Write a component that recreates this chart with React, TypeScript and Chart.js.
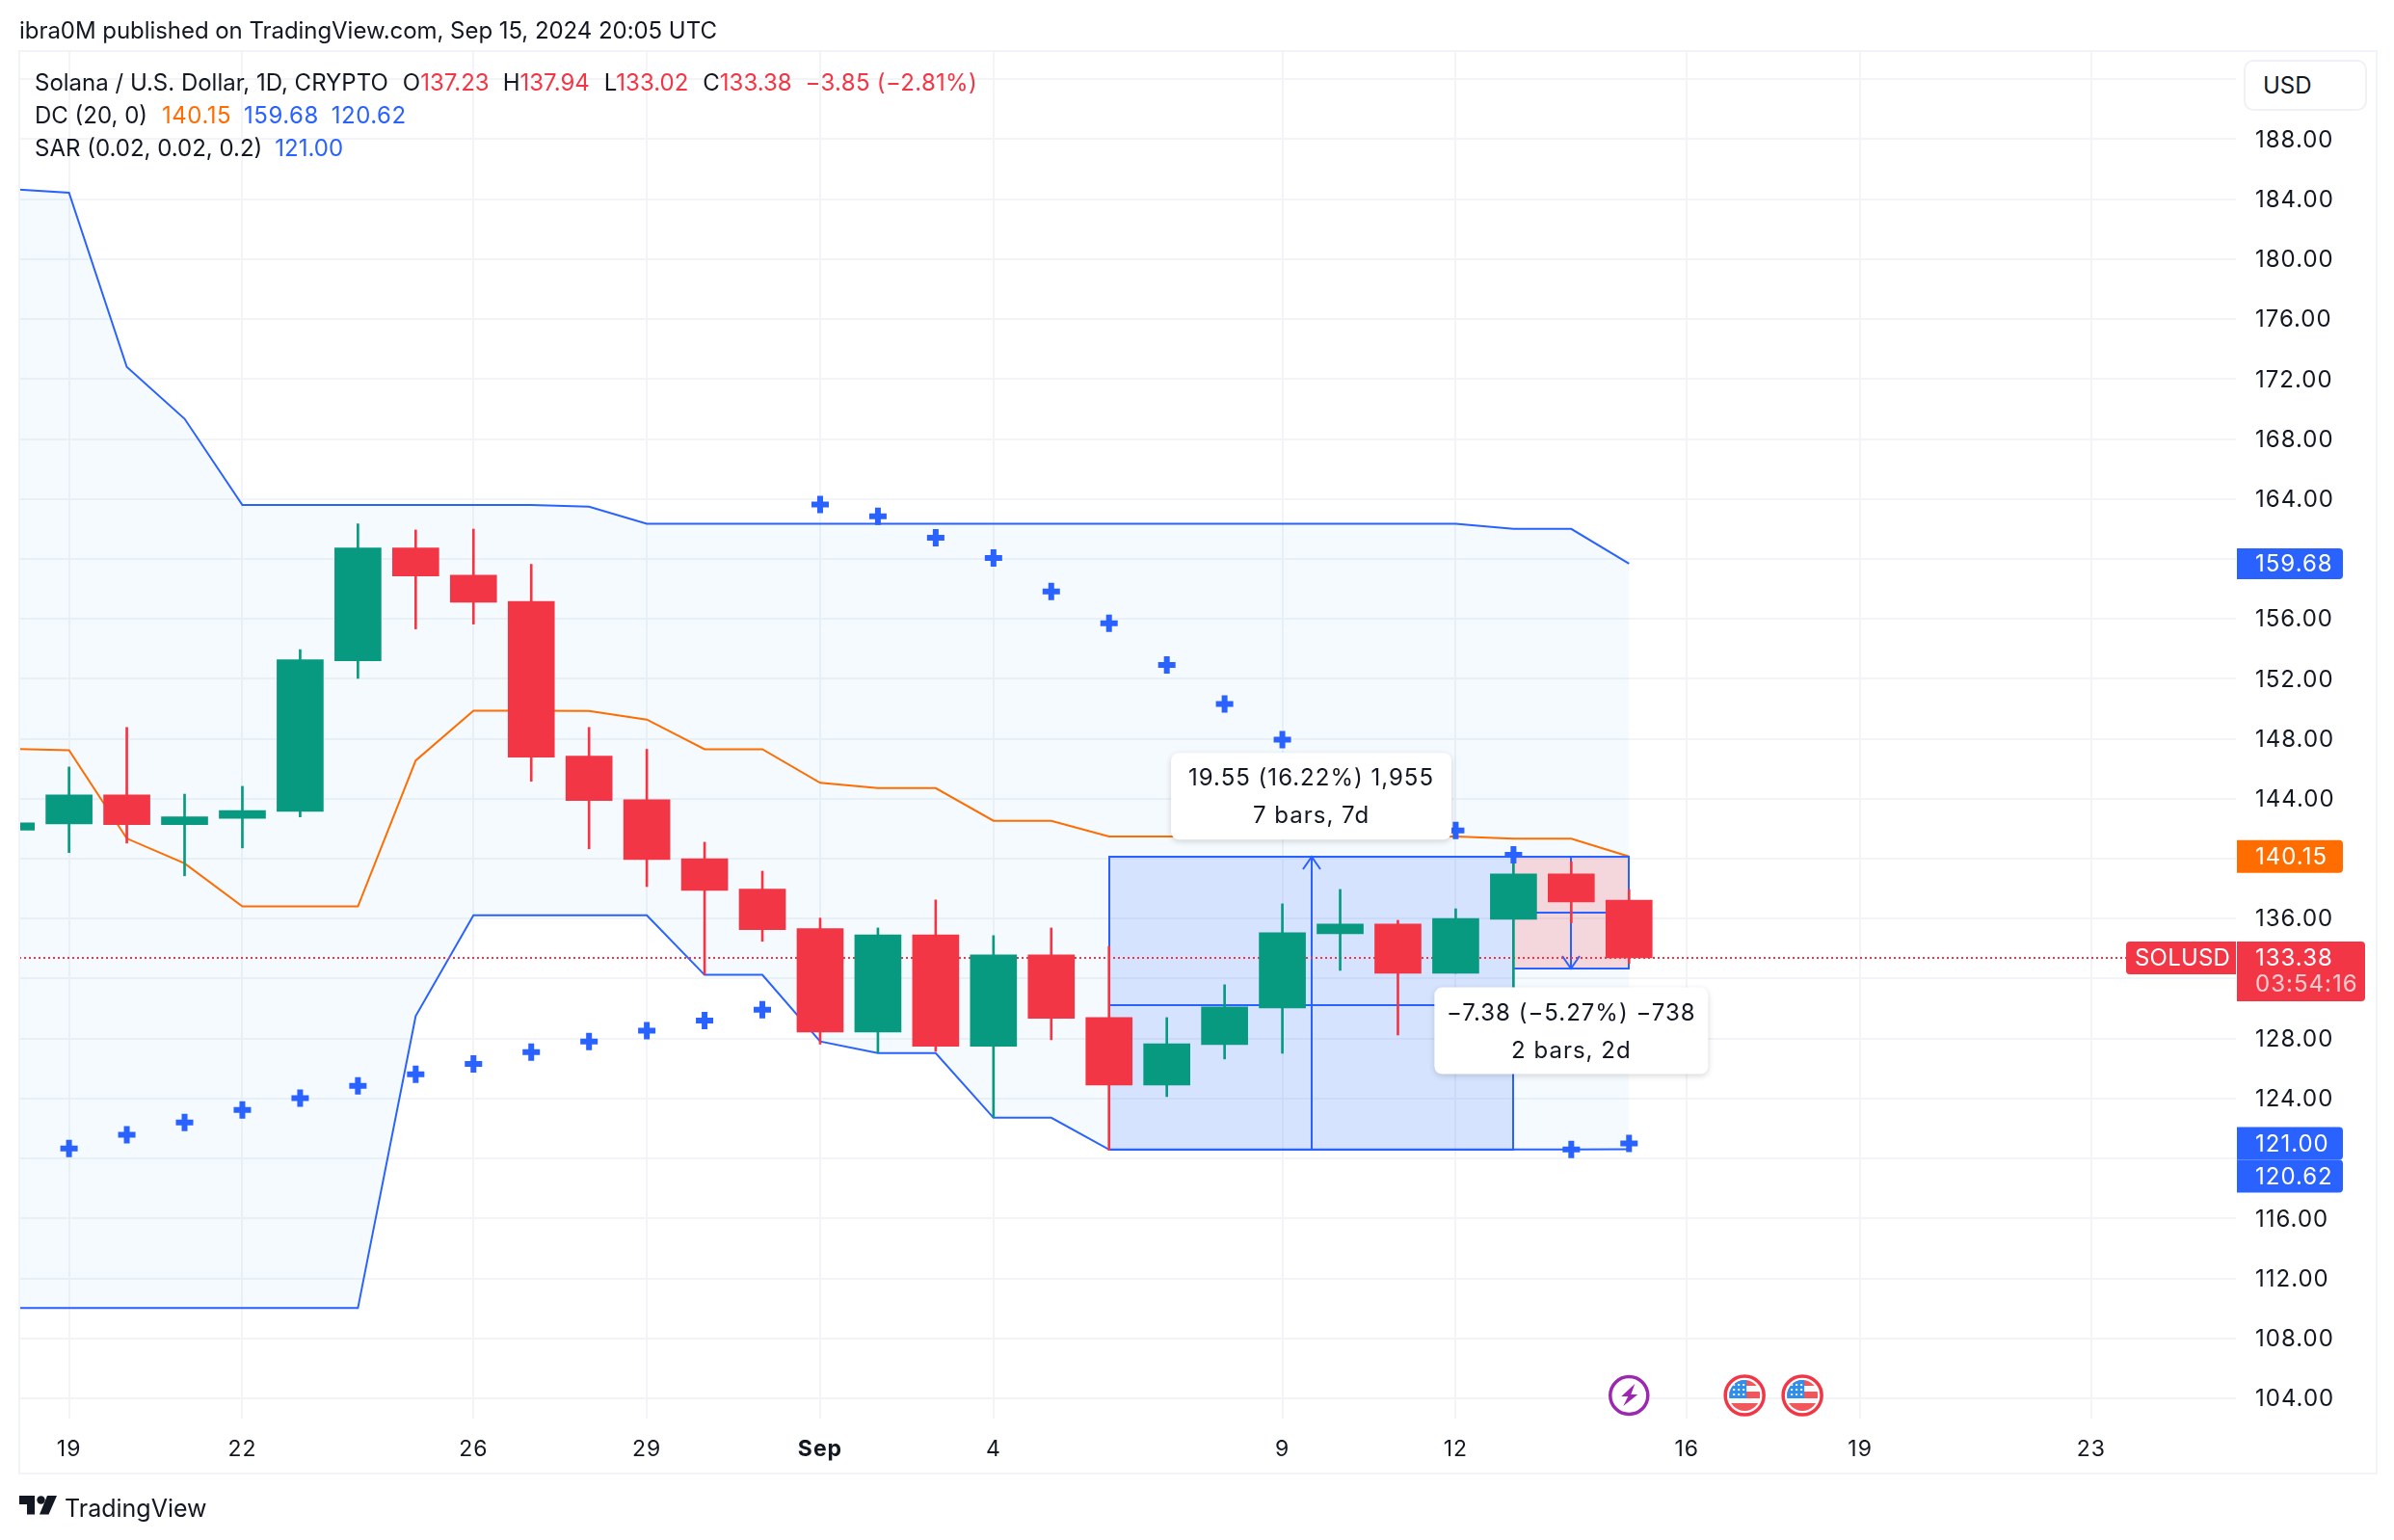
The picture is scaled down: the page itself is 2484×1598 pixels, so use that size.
import React, { useEffect, useRef } from "react";
import { Chart, registerables } from "chart.js";

Chart.register(...registerables);

const FONT = "Inter, 'Noto Sans', sans-serif";
const INK = "#131722";
const UP = "#089981";
const DOWN = "#F23645";
const BLUE = "#2962FF";
const ORANGE = "#FF6D00";

// Aug 18 .. Sep 15, 2024 (x value = days after Aug 19)
const dates = [
  "Aug 18","Aug 19","Aug 20","Aug 21","Aug 22","Aug 23","Aug 24","Aug 25","Aug 26","Aug 27","Aug 28","Aug 29","Aug 30","Aug 31",
  "Sep 1","Sep 2","Sep 3","Sep 4","Sep 5","Sep 6","Sep 7","Sep 8","Sep 9","Sep 10","Sep 11","Sep 12","Sep 13","Sep 14","Sep 15",
];
const opens = [141.9,142.33,144.25,142.27,142.7,143.16,153.21,160.73,158.92,157.17,146.84,143.94,140.0,137.97,135.33,128.44,134.92,127.49,133.58,129.4,124.9,127.6,130.04,134.99,135.64,132.36,135.96,138.98,137.23];
const highs = [142.8,146.12,148.76,144.31,144.83,153.95,162.34,161.93,161.99,159.64,148.76,147.3,141.1,139.17,136.04,135.38,137.25,134.87,135.38,134.16,129.4,131.59,136.99,137.95,135.89,136.66,140.2,139.8,137.94];
const lows = [141.3,140.41,141.04,138.86,140.72,142.79,152.03,155.33,155.65,145.17,140.66,138.14,132.28,134.49,127.63,127.06,127.15,122.73,127.92,120.55,124.13,126.64,127.02,132.55,128.24,132.36,130.6,135.72,133.02];
const closes = [142.39,144.25,142.27,142.79,143.22,153.27,160.73,158.86,157.11,146.78,143.88,139.95,137.88,135.27,128.44,134.92,127.49,133.58,129.36,124.9,127.66,130.11,135.06,135.64,132.36,136.02,138.98,137.11,133.38];

const dcUpper = [184.67,184.43,172.81,169.35,163.6,163.6,163.6,163.6,163.6,163.6,163.48,162.34,162.34,162.34,162.34,162.34,162.34,162.34,162.34,162.34,162.34,162.34,162.34,162.34,162.34,162.34,162.0,162.0,159.68];
const dcMiddle = [147.33,147.24,141.35,139.69,136.82,136.82,136.82,146.55,149.88,149.88,149.85,149.28,147.3,147.3,145.06,144.71,144.71,142.53,142.53,141.49,141.49,141.49,141.49,141.49,141.49,141.49,141.33,141.33,140.15];
const dcLower = [110.02,110.02,110.02,110.02,110.02,110.02,110.02,129.5,136.22,136.22,136.22,136.22,132.25,132.25,127.81,127.03,127.03,122.72,122.72,120.6,120.6,120.6,120.6,120.6,120.6,120.6,120.6,120.6,120.62];
const sar = [119.75,120.66,121.58,122.41,123.24,124.02,124.85,125.62,126.31,127.09,127.81,128.52,129.21,129.93,163.63,162.85,161.42,160.07,157.83,155.7,152.93,150.33,147.94,145.9,143.8,141.89,140.26,120.61,121.0];

const yTicks = [104,108,112,116,120,124,128,132,136,140,144,148,152,156,160,164,168,172,176,180,184,188,192];
const yTicksUnlabelled = [120,132,140,160,192];
const xTickValues = [0,3,7,10,13,16,21,24,28,31,35];
const xTickLabels = ["19","22","26","29","Sep","4","9","12","16","19","23"];

// Price range / date range drawings: x in days after Aug 19
const rangeUpX = [18, 25];
const rangeUpY = [120.6, 140.12];
const rangeUpMid = 130.26;
const rangeUpText = ["19.55 (16.22%) 1,955", "7 bars, 7d"];
const rangeDownX = [25, 27];
const rangeDownY = [140.12, 132.7];
const rangeDownMid = 136.43;
const rangeDownText = ["\u22127.38 (\u22125.27%) \u2212738", "2 bars, 2d"];

const lastPrice = 133.38;
const lastTimer = "03:54:16";
const symbolTag = "SOLUSD";
const eventLightningX = [27];
const eventFlagX = [29, 30];

const X_MIN = -0.861;
const X_MAX = 37.504;
const Y_MIN = 102.65;
const Y_MAX = 193.88;

const xOf = (i: number) => i - 1;
const pts = (arr: number[]) => arr.map((y, i) => ({ x: xOf(i), y }));

function rr(ctx: any, x: number, y: number, w: number, h: number, r: any) {
  ctx.beginPath();
  ctx.roundRect(x, y, w, h, r);
}

function tag(ctx: any, right: number, y: number, w: number, h: number, bg: string, text: string) {
  ctx.fillStyle = bg;
  rr(ctx, right, y - h / 2, w, h, [0, 4, 4, 0]);
  ctx.fill();
  ctx.fillStyle = "#fff";
  ctx.font = `24px ${FONT}`;
  ctx.textAlign = "left";
  ctx.textBaseline = "middle";
  ctx.fillText(text, right + 19, y + 1);
}

function bubble(ctx: any, cx: number, top: number, w: number, h: number, lines: string[]) {
  ctx.save();
  ctx.shadowColor = "rgba(0,0,0,0.16)";
  ctx.shadowBlur = 6;
  ctx.shadowOffsetY = 2;
  ctx.fillStyle = "#fff";
  rr(ctx, cx - w / 2, top, w, h, 8);
  ctx.fill();
  ctx.restore();
  ctx.fillStyle = INK;
  ctx.font = `24px ${FONT}`;
  ctx.textAlign = "center";
  ctx.textBaseline = "middle";
  ctx.fillText(lines[0], cx, top + 27);
  ctx.fillText(lines[1], cx, top + 66);
}

function drawRange(ctx: any, xs: any, ys: any, xr: number[], yr: number[], mid: number, fill: string, up: boolean) {
  const x0 = Math.round(xs.getPixelForValue(xr[0]));
  const x1 = Math.round(xs.getPixelForValue(xr[1]));
  const yA = Math.round(ys.getPixelForValue(yr[0]));
  const yB = Math.round(ys.getPixelForValue(yr[1]));
  const ym = Math.round(ys.getPixelForValue(mid));
  const cx = Math.round((x0 + x1) / 2);
  ctx.save();
  ctx.fillStyle = fill;
  ctx.fillRect(x0, Math.min(yA, yB), x1 - x0, Math.abs(yB - yA));
  ctx.strokeStyle = BLUE;
  ctx.lineWidth = 2;
  ctx.strokeRect(x0, Math.min(yA, yB), x1 - x0, Math.abs(yB - yA));
  ctx.beginPath();
  ctx.moveTo(x0, ym);
  ctx.lineTo(x1, ym);
  ctx.moveTo(cx, yA);
  ctx.lineTo(cx, yB);
  const dir = up ? 1 : -1;
  ctx.moveTo(cx - 9, yB + dir * 13);
  ctx.lineTo(cx, yB);
  ctx.lineTo(cx + 9, yB + dir * 13);
  ctx.stroke();
  ctx.restore();
}

function drawLightning(ctx: any, x: number, y: number) {
  ctx.save();
  ctx.fillStyle = "#fff";
  ctx.strokeStyle = "#9C27B0";
  ctx.lineWidth = 3.5;
  ctx.beginPath();
  ctx.arc(x, y, 19.5, 0, Math.PI * 2);
  ctx.fill();
  ctx.stroke();
  ctx.fillStyle = "#9C27B0";
  ctx.beginPath();
  [[6, -12], [-8, 1], [-1, 1], [-6, 11], [9, -1], [2, -1], [6, -12]].forEach(([a, b], i) =>
    i ? ctx.lineTo(x + a, y + b) : ctx.moveTo(x + a, y + b));
  ctx.fill();
  ctx.restore();
}

function drawFlag(ctx: any, x: number, y: number) {
  ctx.save();
  ctx.fillStyle = "#fff";
  ctx.strokeStyle = DOWN;
  ctx.lineWidth = 3.5;
  ctx.beginPath();
  ctx.arc(x, y, 20, 0, Math.PI * 2);
  ctx.fill();
  ctx.stroke();
  ctx.beginPath();
  ctx.arc(x, y, 16, 0, Math.PI * 2);
  ctx.clip();
  ctx.fillStyle = "#F7F8FA";
  ctx.fillRect(x - 16, y - 16, 32, 32);
  ctx.fillStyle = "#F0565A";
  ctx.fillRect(x - 16, y - 16, 32, 6);
  ctx.fillRect(x - 16, y - 4, 32, 7);
  ctx.fillRect(x - 16, y + 8, 32, 8);
  ctx.fillStyle = "#2F8FEA";
  ctx.fillRect(x - 16, y - 16, 18, 19);
  ctx.fillStyle = "#fff";
  for (let r = 0; r < 3; r++)
    for (let c = 0; c < 3; c++) ctx.fillRect(x - 12 + c * 5, y - 12 + r * 5, 2, 2);
  ctx.restore();
}

const overlay = {
  id: "overlay",
  beforeDraw(chart: any) {
    chart.ctx.letterSpacing = "1px";
  },
  afterDatasetDraw(chart: any, args: any) {
    if (args.index !== 2) return;
    const { ctx, chartArea: a, scales } = chart;
    ctx.save();
    ctx.beginPath();
    ctx.rect(a.left, a.top, a.right - a.left, a.bottom - a.top);
    ctx.clip();
    drawRange(ctx, scales.x, scales.y, rangeUpX, rangeUpY, rangeUpMid, "rgba(41,98,255,0.15)", true);
    drawRange(ctx, scales.x, scales.y, rangeDownX, rangeDownY, rangeDownMid, "rgba(242,54,69,0.18)", false);
    const ly = Math.round(scales.y.getPixelForValue(lastPrice));
    ctx.strokeStyle = DOWN;
    ctx.lineWidth = 2;
    ctx.setLineDash([2, 3]);
    ctx.beginPath();
    ctx.moveTo(a.left, ly);
    ctx.lineTo(a.right, ly);
    ctx.stroke();
    ctx.restore();
  },
  afterDatasetsDraw(chart: any) {
    const { ctx, chartArea: a, scales } = chart;
    const xs = scales.x;
    const ys = scales.y;
    const right = a.right;
    ctx.save();
    const cxUp = xs.getPixelForValue((rangeUpX[0] + rangeUpX[1]) / 2);
    const cxDown = xs.getPixelForValue((rangeDownX[0] + rangeDownX[1]) / 2);
    bubble(ctx, cxUp, ys.getPixelForValue(rangeUpY[1]) - 108, 291, 90, rangeUpText);
    bubble(ctx, cxDown, ys.getPixelForValue(rangeDownY[1]) + 20, 284, 90, rangeDownText);
    eventLightningX.forEach((d) => drawLightning(ctx, xs.getPixelForValue(d), 1448));
    eventFlagX.forEach((d) => drawFlag(ctx, xs.getPixelForValue(d), 1448));

    // axis tags
    tag(ctx, right + 1, ys.getPixelForValue(dcUpper[28]), 110, 32, BLUE, dcUpper[28].toFixed(2));
    tag(ctx, right + 1, ys.getPixelForValue(dcMiddle[28]), 110, 34, ORANGE, dcMiddle[28].toFixed(2));
    const ySar = ys.getPixelForValue(sar[28]);
    tag(ctx, right + 1, ySar, 110, 34, BLUE, sar[28].toFixed(2));
    tag(ctx, right + 1, ySar + 34, 110, 34, BLUE, dcLower[28].toFixed(2));

    const yLast = ys.getPixelForValue(lastPrice);
    ctx.fillStyle = DOWN;
    rr(ctx, right - 114, yLast - 17, 114, 34, [4, 0, 0, 4]);
    ctx.fill();
    rr(ctx, right + 1, yLast - 17, 133, 62, [0, 4, 4, 0]);
    ctx.fill();
    ctx.fillStyle = "#fff";
    ctx.font = `24px ${FONT}`;
    ctx.textBaseline = "middle";
    ctx.textAlign = "left";
    ctx.letterSpacing = "0.2px";
    ctx.fillText(symbolTag, right - 105, yLast + 1);
    ctx.letterSpacing = "1px";
    ctx.fillText(lastPrice.toFixed(2), right + 20, yLast + 1);
    ctx.fillStyle = "rgba(255,255,255,0.75)";
    ctx.fillText(lastTimer, right + 20, yLast + 28);
    ctx.restore();
  },
};

const legendLine: React.CSSProperties = { position: "absolute", left: 36, whiteSpace: "pre", lineHeight: "34px" };
const gap = (n: number): React.CSSProperties => ({ marginLeft: n });
const wide: React.CSSProperties = { letterSpacing: "0.5px" };

export default function App() {
  const ref = useRef<HTMLCanvasElement>(null);
  useEffect(() => {
    const up = closes.map((c, i) => c >= opens[i]);
    const barColors = up.map((u) => (u ? UP : DOWN));
    const line = (data: number[], color: string, order: number, extra: any = {}) => ({
      type: "line",
      data: pts(data),
      borderColor: color,
      borderWidth: 2,
      pointRadius: 0,
      tension: 0,
      order,
      ...extra,
    });
    const chart = new Chart(ref.current as any, {
      type: "line",
      data: {
        datasets: [
          line(dcUpper, BLUE, 10, { label: "DC upper", fill: { target: 2, above: "rgba(33,150,243,0.05)", below: "rgba(33,150,243,0.05)" } }),
          line(dcMiddle, ORANGE, 9, { label: "DC basis" }),
          line(dcLower, BLUE, 8, { label: "DC lower" }),
          {
            type: "bar",
            label: "Wicks",
            data: dates.map((_, i) => ({ x: xOf(i), y: [lows[i], highs[i]] })),
            backgroundColor: barColors,
            barThickness: 2,
            grouped: false,
            borderWidth: 0,
            order: 3,
          },
          {
            type: "bar",
            label: "Bodies",
            data: dates.map((_, i) => ({ x: xOf(i), y: [opens[i], closes[i]] })),
            backgroundColor: barColors,
            barThickness: 48,
            grouped: false,
            borderWidth: 0,
            order: 2,
          },
          {
            type: "line",
            label: "SAR",
            data: pts(sar),
            showLine: false,
            pointStyle: "cross",
            pointRadius: 9,
            pointBorderWidth: 6,
            pointBorderColor: BLUE,
            pointBackgroundColor: BLUE,
            order: 1,
          },
        ],
      } as any,
      options: {
        responsive: false,
        devicePixelRatio: 1,
        animation: false,
        events: [],
        layout: { padding: { left: 20, top: 53, right: 20, bottom: 70 } },
        plugins: { legend: { display: false }, tooltip: { enabled: false } },
        scales: {
          x: {
            type: "linear",
            min: X_MIN,
            max: X_MAX,
            offset: false,
            afterFit: (s: any) => { s.height = 56; },
            afterBuildTicks: (s: any) => { s.ticks = xTickValues.map((value) => ({ value })); },
            grid: { color: "#F2F4F8", lineWidth: 2, drawTicks: false, offset: false },
            border: { display: false },
            ticks: {
              autoSkip: false,
              maxRotation: 0,
              padding: 18,
              color: INK,
              font: (c: any) => ({ family: FONT, size: 23, weight: c.tick && c.tick.value === 13 ? "bold" : "normal" }),
              callback: (v: any) => xTickLabels[xTickValues.indexOf(v)] ?? "",
            },
          },
          y: {
            type: "linear",
            position: "right",
            min: Y_MIN,
            max: Y_MAX,
            afterFit: (s: any) => { s.width = 144; },
            afterBuildTicks: (s: any) => { s.ticks = yTicks.map((value) => ({ value })); },
            grid: { color: "#F2F4F8", lineWidth: 2, drawTicks: false },
            border: { display: false },
            ticks: {
              autoSkip: false,
              padding: 20,
              labelOffset: 1,
              color: INK,
              font: { family: FONT, size: 24 },
              callback: (v: any) => (yTicksUnlabelled.includes(v) ? "" : Number(v).toFixed(2)),
            },
          },
        },
      } as any,
      plugins: [overlay as any],
    });
    return () => chart.destroy();
  }, []);

  const red = { color: DOWN };
  return (
    <div style={{ position: "fixed", left: 0, top: 0, width: 2484, height: 1598, background: "#fff", fontFamily: FONT, fontSize: 24, color: INK, overflow: "hidden" }}>
      <canvas ref={ref} width={2484} height={1598} style={{ position: "absolute", left: 0, top: 0, width: 2484, height: 1598 }} />
      <div style={{ position: "absolute", left: 19, top: 52, width: 2444, height: 1474, border: "2px solid #F0F3FA", pointerEvents: "none" }} />
      <div style={{ ...legendLine, left: 20, top: 15, letterSpacing: "-0.05px" }}>ibra0M published on TradingView.com, Sep 15, 2024 20:05 UTC</div>
      <div style={{ ...legendLine, top: 69 }}>
        Solana / U.S. Dollar, 1D, CRYPTO<span style={gap(15)}>O</span><span style={red}>137.23</span><span style={gap(14)}>H</span><span style={red}>137.94</span><span style={gap(15)}>L</span><span style={red}>133.02</span><span style={gap(15)}>C</span><span style={red}>133.38</span><span style={{ ...red, ...gap(14), letterSpacing: "0.3px" }}>{"\u22123.85 (\u22122.81%)"}</span>
      </div>
      <div style={{ ...legendLine, top: 103 }}>
        DC (20, 0)<span style={{ color: ORANGE, ...gap(15), ...wide }}>140.15</span><span style={{ color: BLUE, ...gap(13), ...wide }}>159.68</span><span style={{ color: BLUE, ...gap(13), ...wide }}>120.62</span>
      </div>
      <div style={{ ...legendLine, top: 137 }}>
        SAR (0.02, 0.02, 0.2)<span style={{ color: BLUE, ...gap(13) }}>121.00</span>
      </div>
      <div style={{ position: "absolute", left: 2328, top: 62, width: 124, height: 49, border: "2px solid #EFF1F6", borderRadius: 10, background: "#fff", lineHeight: "49px" }}>
        <span style={{ marginLeft: 18 }}>USD</span>
      </div>
      <svg style={{ position: "absolute", left: 20, top: 1552 }} width={40} height={20} viewBox="0 0 40 20">
        <path d="M0 0H16V19.5H8V9H0Z" fill={INK} />
        <circle cx="22.5" cy="4.5" r="4.2" fill={INK} />
        <path d="M29 0H39L30.5 19.5H21Z" fill={INK} />
      </svg>
      <div style={{ position: "absolute", left: 67, top: 1547, fontSize: 25, lineHeight: "36px" }}>TradingView</div>
    </div>
  );
}
